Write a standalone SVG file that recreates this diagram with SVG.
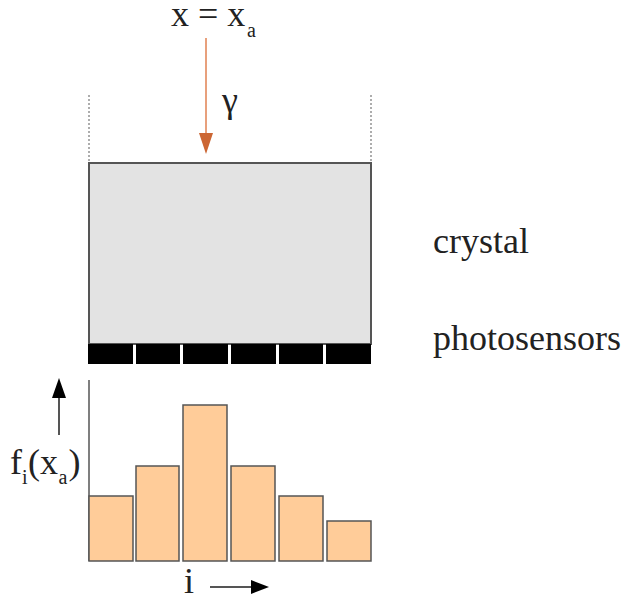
<svg xmlns="http://www.w3.org/2000/svg" width="625" height="601" viewBox="0 0 625 601">
<style>
text{font-family:"Liberation Serif","Times New Roman",serif;fill:#222;}
.big{font-size:36px;}
.sub{font-size:20px;}
.bar{fill:#ffcc99;stroke:#555;stroke-width:1.5;}
.sensor{fill:#000;}
</style>
<rect width="625" height="601" fill="#fff"/>
<g id="boundaries">
<line x1="89" y1="95" x2="89" y2="163" stroke="#777" stroke-width="1.2" stroke-dasharray="2,2"/>
<line x1="371" y1="95" x2="371" y2="163" stroke="#777" stroke-width="1.2" stroke-dasharray="2,2"/>
</g>
<g id="crystal">
<rect x="89" y="163" width="282" height="181" fill="#e3e3e3" stroke="#555" stroke-width="2"/>
</g>
<g id="photosensors">
<rect class="sensor" x="88" y="344" width="45" height="20"/>
<rect class="sensor" x="136" y="344" width="44" height="20"/>
<rect class="sensor" x="183" y="344" width="45" height="20"/>
<rect class="sensor" x="231" y="344" width="45" height="20"/>
<rect class="sensor" x="279" y="344" width="44" height="20"/>
<rect class="sensor" x="326" y="344" width="45" height="20"/>
</g>
<g id="histogram">
<line x1="89" y1="380" x2="89" y2="561" stroke="#555" stroke-width="1.5"/>
<rect class="bar" x="89" y="496" width="44" height="65"/>
<rect class="bar" x="136" y="466" width="43" height="95"/>
<rect class="bar" x="183" y="405" width="44" height="156"/>
<rect class="bar" x="231" y="466" width="44" height="95"/>
<rect class="bar" x="279" y="496" width="44" height="65"/>
<rect class="bar" x="327" y="521" width="44" height="40"/>
</g>
<g id="connectors">
<line x1="206" y1="38" x2="206" y2="136" stroke="#e8a07c" stroke-width="2"/>
<polygon points="199,133 213,133 206,154" fill="#cc6633"/>
<line x1="59" y1="435" x2="59" y2="396" stroke="#555" stroke-width="2"/>
<polygon points="52,398 66,398 59,378" fill="#000"/>
<line x1="210" y1="587" x2="253" y2="587" stroke="#555" stroke-width="2"/>
<polygon points="251,580 251,594 269,587" fill="#000"/>
</g>
<g id="labels">
<text class="big" x="171" y="26">x = x</text>
<text class="sub" x="247" y="37">a</text>
<text class="big" x="222" y="112">γ</text>
<text class="big" x="433" y="253">crystal</text>
<text class="big" x="433" y="350">photosensors</text>
<text class="big" x="10" y="474">f</text>
<text class="sub" x="22" y="484">i</text>
<text class="big" x="28" y="474">(x</text>
<text class="sub" x="58.5" y="484">a</text>
<text class="big" x="68.5" y="474">)</text>
<text class="big" x="184" y="593">i</text>
</g>
</svg>
